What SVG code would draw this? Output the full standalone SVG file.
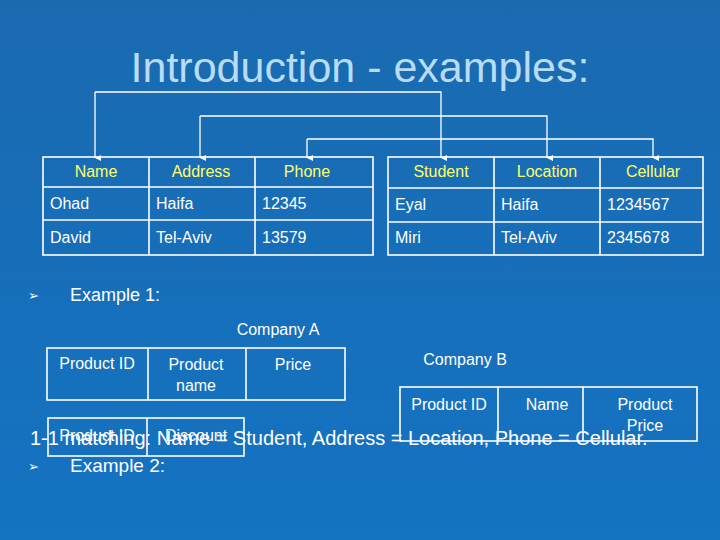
<svg xmlns="http://www.w3.org/2000/svg" width="720" height="540" viewBox="0 0 720 540">
<defs>
<linearGradient id="bg" x1="0" y1="0" x2="0" y2="1"><stop offset="0" stop-color="#1a6ab0"/><stop offset="1" stop-color="#1473c2"/></linearGradient>
<marker id="ar" viewBox="0 0 10 10" refX="5" refY="10" markerWidth="6" markerHeight="6" orient="auto-start-reverse" markerUnits="userSpaceOnUse"><path d="M0,0 L10,0 L5,10 z" fill="#fff"/></marker>
</defs>
<style>
text{font-family:"Liberation Sans",Arial,sans-serif;fill:#fff}
.h{fill:#ffff66;font-size:16px;text-anchor:middle}
.c{font-size:16px}
.m{font-size:16px;text-anchor:middle}
.g{fill:none;stroke:#fff;stroke-width:1.6}
.l{fill:none;stroke:#fff;stroke-width:1.3}
</style>
<rect width="720" height="540" fill="url(#bg)"/>
<text x="360" y="82" font-size="43" text-anchor="middle" style="fill:#b8dcf4">Introduction - examples:</text>
<g id="connectors" class="l">
<path d="M95,92 H441 V158" marker-end="url(#ar)"/>
<path d="M95,92 V158" marker-end="url(#ar)"/>
<path d="M200,116 H547 V158" marker-end="url(#ar)"/>
<path d="M200,116 V158" marker-end="url(#ar)"/>
<path d="M307,139 H653 V158" marker-end="url(#ar)"/>
<path d="M307,139 V158" marker-end="url(#ar)"/>
</g>
<g id="table1">
<rect x="43" y="157" width="330" height="98" class="g"/>
<path d="M149,157V255M255,157V255M43,187H373M43,220H373" class="g"/>
<text x="96" y="177" class="h">Name</text><text x="201" y="177" class="h">Address</text><text x="307" y="177" class="h">Phone</text>
<text x="50" y="209" class="c">Ohad</text><text x="156" y="209" class="c">Haifa</text><text x="262" y="209" class="c">12345</text>
<text x="50" y="243" class="c">David</text><text x="156" y="243" class="c">Tel-Aviv</text><text x="262" y="243" class="c">13579</text>
</g>
<g id="table2">
<rect x="388" y="157" width="315" height="98" class="g"/>
<path d="M494,157V255M600,157V255M388,188H703M388,222H703" class="g"/>
<text x="441" y="177" class="h">Student</text><text x="547" y="177" class="h">Location</text><text x="653" y="177" class="h">Cellular</text>
<text x="395" y="210" class="c">Eyal</text><text x="501" y="210" class="c">Haifa</text><text x="607" y="210" class="c">1234567</text>
<text x="395" y="243" class="c">Miri</text><text x="501" y="243" class="c">Tel-Aviv</text><text x="607" y="243" class="c">2345678</text>
</g>
<g id="ex1">
<text x="28" y="300" font-size="13">➢</text>
<text x="70" y="301" font-size="18">Example 1:</text>
<text x="278" y="335" class="m">Company A</text>
</g>
<g id="tableA">
<rect x="47" y="348" width="298" height="52" class="g"/>
<path d="M148,348V400M246,348V400" class="g"/>
<text x="97" y="369" class="m">Product ID</text><text x="196" y="370" class="m">Product</text><text x="196" y="391" class="m">name</text><text x="293" y="370" class="m">Price</text>
</g>
<g id="tableB">
<text x="465" y="365" class="m">Company B</text>
<rect x="400" y="387" width="297" height="54" class="g"/>
<path d="M498,387V441M583,387V441" class="g"/>
<text x="449" y="410" class="m">Product ID</text><text x="547" y="410" class="m">Name</text><text x="645" y="410" class="m">Product</text><text x="645" y="431" class="m">Price</text>
</g>
<g id="tableC">
<rect x="48" y="418" width="196" height="38" class="g"/>
<path d="M147,418V456" class="g"/>
<text x="97" y="441" class="m">Product ID</text><text x="196" y="441" class="m">Discount</text>
</g>
<text x="30" y="445" font-size="20">1-1 matching: Name = Student, Address = Location, Phone = Cellular.</text>
<text x="28" y="471" font-size="13">➢</text>
<text x="70" y="472" font-size="19">Example 2:</text>
</svg>
